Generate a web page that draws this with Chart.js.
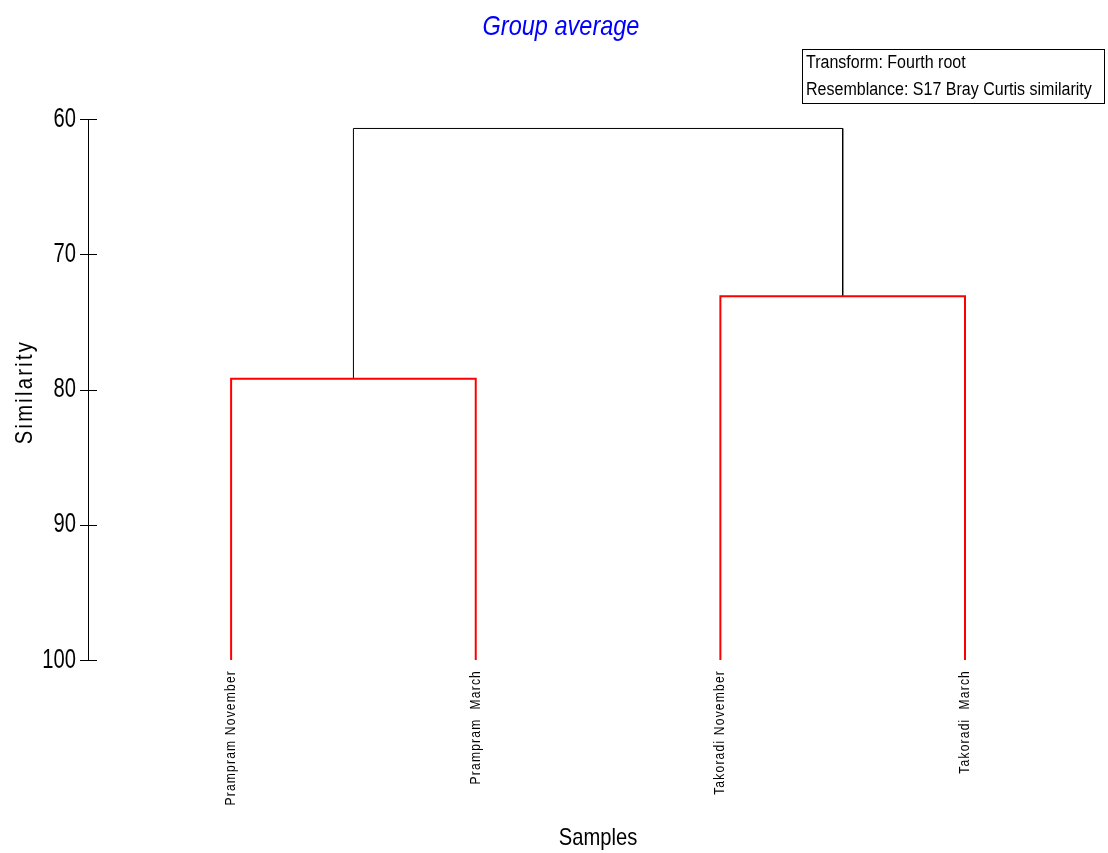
<!DOCTYPE html>
<html>
<head>
<meta charset="utf-8">
<title>Group average</title>
<script src="https://cdn.jsdelivr.net/npm/chart.js@4.4.1/dist/chart.umd.min.js"></script>
<style>
  html, body { margin: 0; padding: 0; background: #fff; }
  #wrap { position: relative; width: 1108px; height: 853px; }
</style>
</head>
<body>
<div id="wrap"><canvas id="dendro" width="1108" height="853"></canvas></div>
<script>
/* ── DATA ── */
const samples = ['Prampram November', 'Prampram  March', 'Takoradi November', 'Takoradi  March'];
const leafPos = [1, 2, 3, 4];
// joins in order; node ids 0-3 are the samples, 4+ are earlier joins
const joinA = [0, 2, 4];
const joinB = [1, 3, 5];
const joinSim = [79.2, 73.1, 60.7];
const simTicks = [60, 70, 80, 90, 100];

const FONT = '"Liberation Sans", Arial, sans-serif';
const joinStyle = [
  { color: '#ff0000', width: 2 },
  { color: '#ff0000', width: 2 },
  { color: '#000000', width: 1 },
];

/* ── BUILD DENDROGRAM SEGMENTS ── */
const nodeX = leafPos.slice();
const nodeY = samples.map(() => 100);
const datasets = [];
joinA.forEach((a, i) => {
  const b = joinB[i];
  const h = joinSim[i];
  datasets.push({
    data: [
      { x: nodeX[a], y: nodeY[a] },
      { x: nodeX[a], y: h },
      { x: nodeX[b], y: h },
      { x: nodeX[b], y: nodeY[b] },
    ],
    borderColor: joinStyle[i].color,
    borderWidth: joinStyle[i].width,
    showLine: true,
    pointRadius: 0,
    tension: 0,
    clip: false,
  });
  nodeX.push((nodeX[a] + nodeX[b]) / 2);
  nodeY.push(h);
});

/* ── TEXT HELPER: condensed (x-squeezed) text, optionally rotated ── */
function squeezed(ctx, text, x, y, o) {
  ctx.save();
  ctx.translate(x, y);
  if (o.rotate) ctx.rotate(o.rotate);
  ctx.scale(o.sx || 1, 1);
  ctx.font = o.font;
  ctx.fillStyle = o.color || '#000';
  ctx.textAlign = o.align || 'left';
  ctx.textBaseline = 'middle';
  ctx.letterSpacing = o.spacing || '0px';
  ctx.fillText(text, 0, 0);
  ctx.restore();
}

/* ── TEXT + TICKS ── */
const annotations = {
  id: 'annotations',
  afterDraw(chart) {
    const { ctx } = chart;
    const xs = chart.scales.x, ys = chart.scales.y;
    ctx.save();

    // tick marks across the axis line, with their labels
    ctx.strokeStyle = '#000';
    ctx.lineWidth = 1;
    simTicks.forEach(v => {
      const py = ys.getPixelForValue(v);
      const y = Math.round(py) + 0.5;
      ctx.beginPath();
      ctx.moveTo(ys.right - 8, y);
      ctx.lineTo(ys.right + 9, y);
      ctx.stroke();
      squeezed(ctx, String(v), ys.right - 12, py, { font: '28px ' + FONT, sx: 0.72, align: 'right' });
    });

    // title
    squeezed(ctx, 'Group average', 561, 27, { font: 'italic 28px ' + FONT, sx: 0.84, align: 'center', color: '#0000ff' });

    // info box
    ctx.strokeRect(802.5, 49.5, 302, 54);
    squeezed(ctx, 'Transform: Fourth root', 806, 63, { font: '18px ' + FONT, sx: 0.89 });
    squeezed(ctx, 'Resemblance: S17 Bray Curtis similarity', 806, 90, { font: '18px ' + FONT, sx: 0.89 });

    // axis titles
    squeezed(ctx, 'Samples', 598, 838, { font: '24px ' + FONT, sx: 0.84, align: 'center' });
    squeezed(ctx, 'Similarity', 25, 392, { font: '24px ' + FONT, sx: 0.84, align: 'center', rotate: -Math.PI / 2, spacing: '2.7px' });

    // sample names under each leaf
    samples.forEach((name, i) => {
      squeezed(ctx, name, xs.getPixelForValue(leafPos[i]), ys.bottom + 10, {
        font: '14px ' + FONT, sx: 0.86, align: 'right', rotate: -Math.PI / 2, spacing: '1.4px'
      });
    });

    ctx.restore();
  }
};

new Chart(document.getElementById('dendro'), {
  type: 'scatter',
  data: { datasets },
  options: {
    responsive: false,
    animation: false,
    devicePixelRatio: 1,
    layout: { padding: { top: 119, bottom: 193, left: 0, right: 6 } },
    plugins: { legend: { display: false }, tooltip: { enabled: false } },
    scales: {
      x: {
        type: 'linear',
        min: 0.415,
        max: 4.56,
        display: false,
      },
      y: {
        type: 'linear',
        reverse: true,
        min: 60,
        max: 100,
        afterFit: s => { s.width = 88; },
        afterBuildTicks: s => { s.ticks = simTicks.map(v => ({ value: v })); },
        ticks: { display: false },
        grid: { drawOnChartArea: false, drawTicks: false },
        border: { display: true, color: '#000', width: 1 },
      },
    },
  },
  plugins: [annotations],
});
</script>
</body>
</html>
